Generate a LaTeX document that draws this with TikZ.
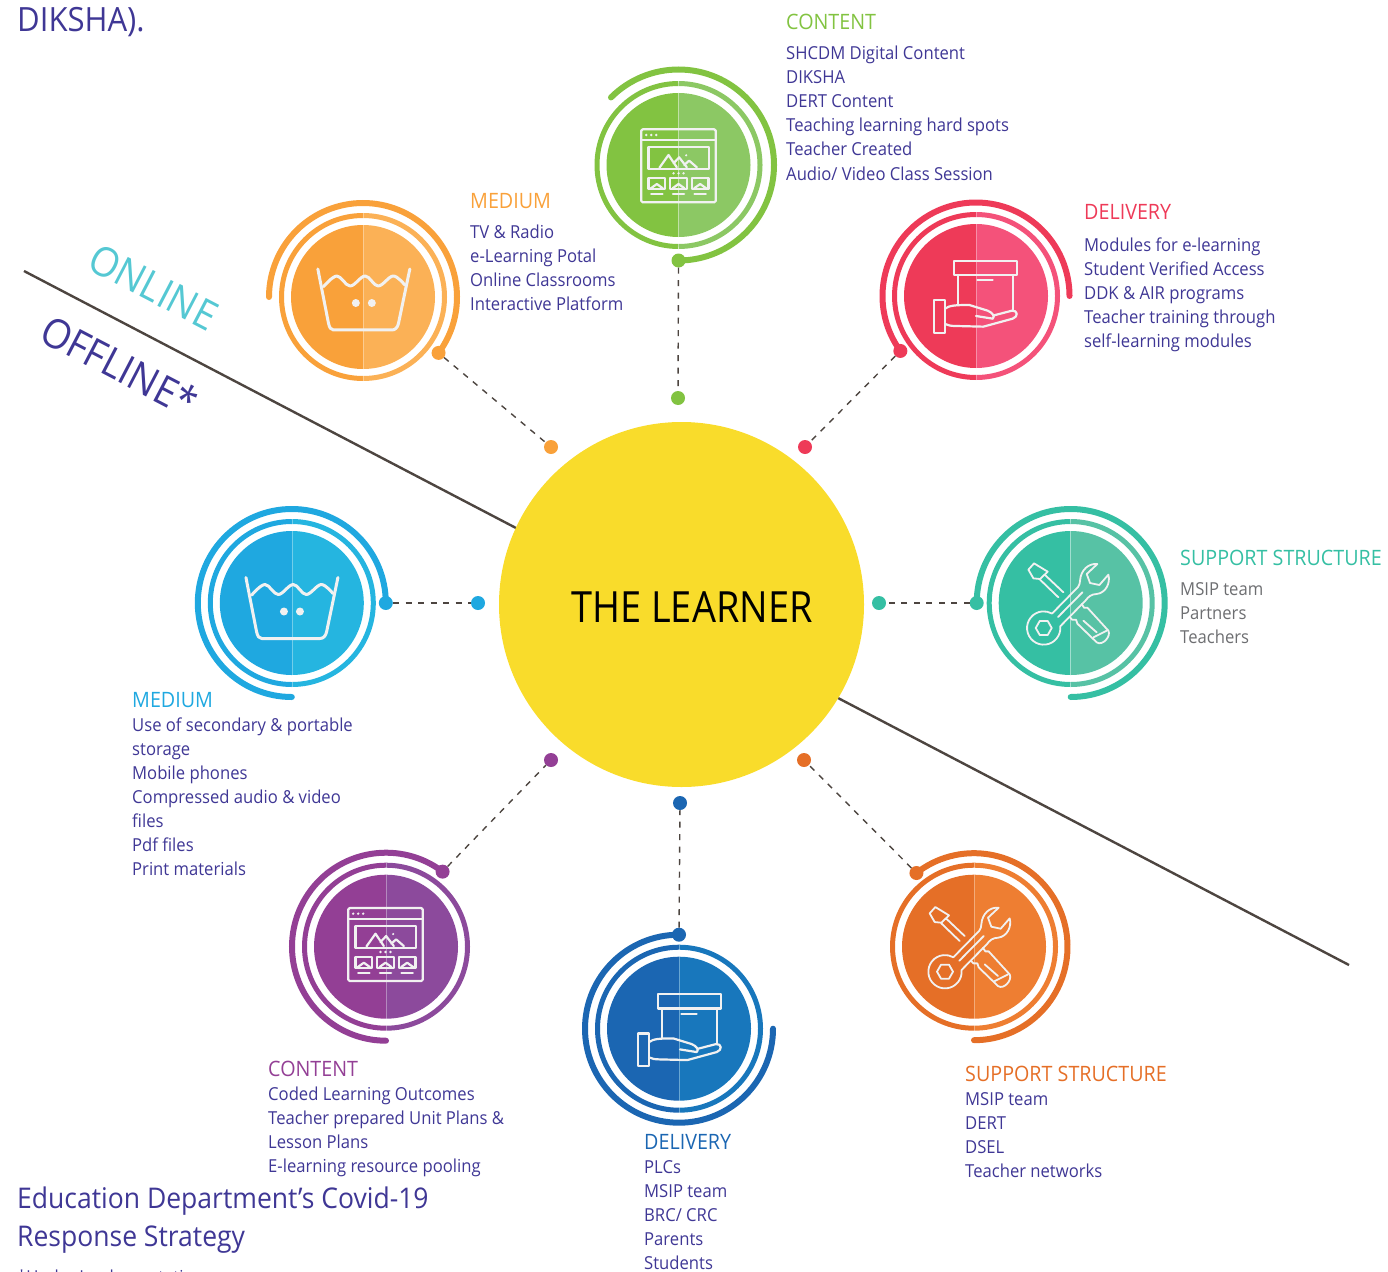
\documentclass[tikz,border=0pt]{standalone}
\usepackage{fontspec}
\setmainfont[FakeStretch=0.93]{Open Sans}
\newfontfamily\hubfont[FakeStretch=0.882]{Open Sans}
\usetikzlibrary{calc}
\definecolor{ink}{HTML}{3F3795}
\definecolor{lineC}{HTML}{4D4540}
\definecolor{grayT}{HTML}{6D6E71}
\definecolor{iconC}{HTML}{F1F1F1}
\definecolor{sunC}{HTML}{F9DC2B}
\definecolor{onlineC}{HTML}{55C8D3}
\definecolor{greenA}{HTML}{82C341}\definecolor{greenB}{HTML}{8CC864}
\definecolor{orangeA}{HTML}{F9A13A}\definecolor{orangeB}{HTML}{FBB156}
\definecolor{redA}{HTML}{EE3A58}\definecolor{redB}{HTML}{F4527A}
\definecolor{tealA}{HTML}{35BFA3}\definecolor{tealB}{HTML}{57C2A5}
\definecolor{skyA}{HTML}{1FA8E0}\definecolor{skyB}{HTML}{25B5E0}
\definecolor{purpA}{HTML}{933F95}\definecolor{purpB}{HTML}{8C4A9C}
\definecolor{blueA}{HTML}{1B66B2}\definecolor{blueB}{HTML}{1877BC}
\definecolor{rustA}{HTML}{E56F27}\definecolor{rustB}{HTML}{EE7E32}
\newcommand\blk[1]{\vtop{\baselineskip=24pt\lineskiplimit=-100pt\halign{##\hfil\cr #1\crcr}}}
\tikzset{
  dotn/.style={circle,minimum size=14pt,inner sep=0pt,draw=none},
  bodytxt/.style={anchor=base west,inner sep=0pt,font=\fontsize{17.9}{24}\selectfont,text=ink},
  headtxt/.style={anchor=base west,inner sep=0pt,font=\fontsize{21.2}{24}\selectfont},
  titletxt/.style={anchor=base west,inner sep=0pt,font=\fontsize{28.5}{38}\selectfont,text=ink},
  slanttxt/.style={anchor=base west,inner sep=0pt,rotate=-27.5,font=\fontsize{40.8}{44}\selectfont},
  dashline/.style={draw=lineC,line width=1.4pt,dash pattern=on 6pt off 6.5pt},
  divline/.style={draw=lineC,line width=2.4pt},
  icn/.style={draw=iconC,line width=2.2pt,line join=round,line cap=round},
  icnthin/.style={draw=iconC,line width=1.8pt,line join=round,line cap=round},
  icnscope/.style={x=.3333pt,y=-.3333pt}
}
% #1 name, #2 cx, #3 cy, #4 dark, #5 light, #6 start, #7 end, #8 arc radius
\newcommand\branch[8]{%
  \begin{scope}[shift={(#2,#3)}]
    \fill[#4] (0,-72) arc[start angle=-90,end angle=-270,radius=72] -- cycle;
    \fill[#5] (0,-72) arc[start angle=-90,end angle=90,radius=72] -- cycle;
    \draw[#4,line width=5pt] (0,-81.5) arc[start angle=-90,end angle=-270,radius=81.5];
    \draw[#5,line width=5pt] (0,-81.5) arc[start angle=-90,end angle=90,radius=81.5];
    \draw[white,opacity=.35,line width=.6pt] (0,-84) -- (0,84);
    \draw[#4,line width=6pt,line cap=round] (#6:#8) arc[start angle=#6,end angle=#7,radius=#8];
    \node[dotn,fill=#4] (#1) at (#6:#8) {};
  \end{scope}}
\newcommand\browsericon[2]{%
  \begin{scope}[shift={(#1,#2)},icnscope]
    \draw[icn,rounded corners=1.5pt] (-112,-107) rectangle (112,112);
    \draw[icn] (-112,-75) -- (112,-75);
    \foreach \a in {-97,-82,-67} \fill[iconC] (\a,-90) circle (4);
    \draw[icn] (-90,-53) rectangle (91,12);
    \draw[icn] (-57,8) -- (-30,-30) -- (-5,7) (-15,-5) -- (2,-23) -- (25,7) (17,0) -- (32,-13) -- (55,7);
    \fill[iconC] (23,-29) circle (3.5);
    \foreach \a in {-15,0,15} \fill[iconC] (\a,25) circle (4);
    \foreach \a in {-65,0,65} {
      \draw[icn] (\a-25,40) rectangle (\a+25,73);
      \draw[icn] (\a-18,70) -- (\a,57) -- (\a+18,70);
      \draw[icn] (\a-17,87) -- (\a+17,87);
    }
  \end{scope}}
\newcommand\boxicon[2]{%
  \begin{scope}[shift={(#1,#2)},icnscope]
    \draw[icn] (-65,-106) rectangle (122,-63);
    \draw[icn] (-53,-63) -- (-53,27) (110,-63) -- (110,42);
    \draw[icn] (4,-47) -- (50,-47);
    \draw[icn] (-125,12) rectangle (-93,110);
    \draw[icn] (-93,38) .. controls (-80,28) and (-60,27) .. (-20,27) -- (35,44)
       .. controls (50,50) and (58,62) .. (50,68) -- (0,60);
    \draw[icn] (54,58) -- (108,44) .. controls (125,42) and (128,62) .. (110,68) -- (22,92) -- (-60,90) .. controls (-75,90) and (-85,88) .. (-93,84);
  \end{scope}}
\newcommand\toolicon[2]{%
  \begin{scope}[shift={(#1,#2)},icnscope]
    % screwdriver blade and shaft
    \draw[icnthin] (-110,-119) -- (-69,-94) -- (-92,-72) -- (-112,-74) -- (-127,-100) -- cycle;
    \draw[icnthin] (-77,-84) -- (-22,-32) (-92,-70) -- (-37,-17);
    % screwdriver handle
    \draw[icnthin] (33,3) -- (40,14) -- (50,14) -- (113,83) .. controls (122,100) and (95,130) .. (78,118)
       -- (20,62) -- (16,50) -- (4,50) -- (-2,43);
    \draw[icnthin] (38,53) -- (78,88) (68,103) -- (108,83);
    % wrench
    \draw[icnthin] (-56,31.7) -- (22,-48) .. controls (26,-54) and (28,-60) .. (28,-67)
      .. controls (30,-100) and (55,-120) .. (80,-117) -- (48,-87) -- (58,-60) -- (86,-54) -- (113,-85)
      .. controls (120,-60) and (105,-30) .. (78,-27) .. controls (62,-27) and (52,-18) .. (45,-8) -- (-31.3,69.8)
      arc[start angle=-6,end angle=300,radius=50];
    \draw[icnthin] (-105,75) -- (-93,54) -- (-69,54) -- (-57,75) -- (-69,96) -- (-93,96) -- cycle;
    \draw[icnthin] (-38,42) -- (35,-32);
  \end{scope}}
\newcommand\basinicon[2]{%
  \begin{scope}[shift={(#1,#2)},icnscope]
    \draw[icn,line width=3pt] (-134,-84) -- (-102,79) .. controls (-99,92) and (-95,99) .. (-87,99) -- (88,99)
       .. controls (98,99) and (105,92) .. (108,79) -- (142,-84);
    \draw[icn,line width=3pt] plot[smooth,tension=.6] coordinates {(-117,-31) (-77,-63) (-37,-33) (8,-63) (47,-33) (92,-63) (127,-36)};
    \fill[iconC] (-20,18) circle (12);
    \fill[iconC] (28,18) circle (12);
  \end{scope}}
\begin{document}
\begin{tikzpicture}[x=1pt,y=-1pt]
\useasboundingbox (0,0) rectangle (1388,1271);
% dividing lines
\coordinate (la) at (24,271); \coordinate (lb) at (516,528);
\coordinate (lc) at (838,698); \coordinate (ld) at (1349,965);
\draw[divline] (la) -- (lb);
\draw[divline] (lc) -- (ld);
% branches
\branch{cOn}{678.5}{165}{greenA}{greenB}{90}{-135}{95.5}
\branch{dOn}{976}{296}{redA}{redB}{-216}{0}{93.5}
\branch{sOn}{1070.7}{603}{tealA}{tealB}{180}{450}{94}
\branch{mOn}{363}{297}{orangeA}{orangeB}{36.5}{-180}{94}
\branch{mOff}{291.8}{603}{skyA}{skyB}{0}{-270}{94}
\branch{cOff}{386}{946.7}{purpA}{purpB}{-53}{-270}{94}
\branch{dOff}{679}{1028.7}{blueA}{blueB}{-90}{-360}{94}
\branch{sOff}{974}{946.7}{rustA}{rustB}{-128}{90}{93.5}
% icons
\browsericon{678.5}{165}
\browsericon{385.5}{943.7}
\boxicon{976}{296}
\boxicon{680}{1029.4}
\toolicon{1070.7}{603}
\toolicon{972}{946.7}
\basinicon{362.5}{297}
\basinicon{290.6}{605.5}
% learner
\node[circle,fill=sunC,minimum size=365pt,inner sep=0pt] (hub) at (681.5,604.5) {};
\node[inner sep=0pt,font=\hubfont\fontsize{43}{48}\selectfont] (hubt) at (692,607) {THE LEARNER};
% inner dots
\node[dotn,fill=greenA] (icOn) at (678,398) {};
\node[dotn,fill=redA] (idOn) at (805,447) {};
\node[dotn,fill=tealA] (isOn) at (879,603) {};
\node[dotn,fill=orangeA] (imOn) at (551,447) {};
\node[dotn,fill=skyA] (imOff) at (478,603) {};
\node[dotn,fill=purpA] (icOff) at (551,760) {};
\node[dotn,fill=blueA] (idOff) at (680,803) {};
\node[dotn,fill=rustA] (isOff) at (804,760) {};
% connectors
\draw[dashline] (cOn) -- (icOn);
\draw[dashline] (dOn) -- (idOn);
\draw[dashline] (sOn) -- (isOn);
\draw[dashline] (mOn) -- (imOn);
\draw[dashline] (mOff) -- (imOff);
\draw[dashline] (cOff) -- (icOff);
\draw[dashline] (dOff) -- (idOff);
\draw[dashline] (sOff) -- (isOff);
% texts
\node[headtxt,text=greenA] (tc1) at (786,30) {CONTENT};
\node[bodytxt] (bc1) at (786,60) {\blk{SHCDM Digital Content\cr DIKSHA\cr DERT Content\cr Teaching learning hard spots\cr Teacher Created\cr Audio/ Video Class Session}};
\node[headtxt,text=redA] (td1) at (1084,219) {DELIVERY};
\node[bodytxt] (bd1) at (1084,251) {\blk{Modules for e-learning\cr Student Verified Access\cr DDK \& AIR programs\cr Teacher training through\cr self-learning modules}};
\node[headtxt,text=tealA] (ts1) at (1180,565) {SUPPORT STRUCTURE};
\node[bodytxt,text=grayT] (bs1) at (1180,595) {\blk{MSIP team\cr Partners\cr Teachers}};
\node[headtxt,text=orangeA] (tm1) at (470,208) {MEDIUM};
\node[bodytxt] (bm1) at (470,238) {\blk{TV \& Radio\cr e-Learning Potal\cr Online Classrooms\cr Interactive Platform}};
\node[headtxt,text=skyA] (tm2) at (132,707) {MEDIUM};
\node[bodytxt] (bm2) at (132,731) {\blk{Use of secondary \& portable\cr storage\cr Mobile phones\cr Compressed audio \& video\cr files\cr Pdf files\cr Print materials}};
\node[headtxt,text=purpA] (tc2) at (268,1076) {CONTENT};
\node[bodytxt] (bc2) at (268,1100) {\blk{Coded Learning Outcomes\cr Teacher prepared Unit Plans \&\cr Lesson Plans\cr E-learning resource pooling}};
\node[headtxt,text=blueA] (td2) at (644,1149) {DELIVERY};
\node[bodytxt] (bd2) at (644,1173) {\blk{PLCs\cr MSIP team\cr BRC/ CRC\cr Parents\cr Students}};
\node[headtxt,text=rustA] (ts2) at (965,1081) {SUPPORT STRUCTURE};
\node[bodytxt] (bs2) at (965,1105) {\blk{MSIP team\cr DERT\cr DSEL\cr Teacher networks}};
\node[titletxt,font=\fontsize{33.4}{38}\selectfont] (ta) at (17,31.5) {DIKSHA).};
\node[titletxt] (tb) at (17,1208) {Education Department’s Covid-19};
\node[titletxt] (tb2) at (17,1246) {Response Strategy};
\node[bodytxt] (tc) at (17,1283) {*Under Implementation};
\node[slanttxt,text=onlineC] (on) at (85,268) {ONLINE};
\node[slanttxt,text=ink] (off) at (37,340) {OFFLINE*};
\end{tikzpicture}
\end{document}
